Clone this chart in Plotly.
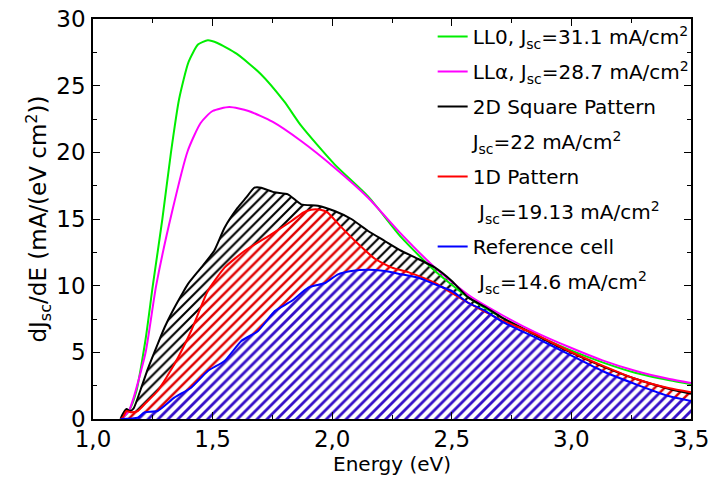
import plotly.graph_objects as go

# ---------------- data ----------------
ll0_x = [1.12, 1.15, 1.18, 1.22, 1.25, 1.29, 1.326, 1.36, 1.40, 1.44, 1.48, 1.52, 1.60, 1.70, 1.80,
         1.87, 2.01, 2.15, 2.29, 2.43, 2.57, 2.71, 2.85, 2.99, 3.13, 3.27, 3.41, 3.50]
ll0_y = [0.0, 0.6, 2.0, 6.0, 10.0, 15.0, 20.0, 24.0, 26.8, 28.1, 28.4, 28.2, 27.4, 25.9, 23.8,
         22.0, 19.1, 16.7, 13.6, 11.1, 9.1, 7.6, 6.3, 5.2, 4.25, 3.45, 2.9, 2.6]

lla_x = [1.12, 1.15, 1.17, 1.22, 1.264, 1.33, 1.396, 1.45, 1.50, 1.57, 1.65, 1.75, 1.87,
         2.01, 2.15, 2.29, 2.43, 2.57, 2.71, 2.85, 2.99, 3.13, 3.27, 3.41, 3.50]
lla_y = [0.0, 0.6, 1.6, 5.0, 10.0, 15.5, 20.1, 22.2, 23.1, 23.4, 23.1, 22.3, 20.85,
         18.85, 16.6, 13.85, 11.35, 9.3, 7.8, 6.5, 5.4, 4.4, 3.6, 3.0, 2.7]

sq2d_x = [1.115, 1.124, 1.14, 1.155, 1.17, 1.20, 1.23, 1.27, 1.30, 1.333, 1.37, 1.396, 1.452,
          1.506, 1.55, 1.605, 1.64, 1.675, 1.703, 1.758, 1.815, 1.87, 1.94, 2.01, 2.08, 2.15,
          2.22, 2.29, 2.36, 2.43, 2.50, 2.57, 2.64, 2.71, 2.85, 2.99, 3.13, 3.27, 3.41, 3.50]
sq2d_y = [0.0, 0.35, 0.75, 0.6, 0.8, 2.25, 3.8, 5.6, 6.9, 8.1, 9.3, 10.1, 11.35,
          12.6, 14.35, 15.85, 16.6, 17.35, 17.35, 17.0, 16.85, 16.1, 16.0, 15.6, 15.0, 14.1,
          13.35, 12.6, 12.0, 11.35, 10.35, 9.1, 8.4, 7.6, 6.3, 5.05, 3.95, 3.0, 2.25, 1.9]

p1d_x = [1.115, 1.124, 1.14, 1.16, 1.187, 1.22, 1.27, 1.34, 1.41, 1.48, 1.55, 1.633, 1.745,
         1.83, 1.88, 1.912, 1.95, 1.98, 2.04, 2.11, 2.18, 2.25, 2.32, 2.43, 2.57, 2.71, 2.85,
         2.99, 3.13, 3.27, 3.41, 3.50]
p1d_y = [0.0, 0.1, 0.6, 0.5, 0.6, 1.2, 2.1, 4.1, 6.6, 9.6, 11.35, 12.6, 13.85,
         14.85, 15.5, 15.7, 15.7, 15.5, 14.35, 13.1, 12.0, 11.35, 11.0, 10.2, 8.7, 7.4, 6.35,
         5.1, 4.0, 3.0, 2.3, 2.0]

ref_x = [1.115, 1.187, 1.215, 1.27, 1.34, 1.41, 1.48, 1.55, 1.62, 1.69, 1.76, 1.83, 1.90, 1.97,
         2.024, 2.08, 2.15, 2.22, 2.29, 2.36, 2.43, 2.50, 2.57, 2.64, 2.71, 2.85, 2.99, 3.13,
         3.27, 3.41, 3.50]
ref_y = [0.0, 0.1, 0.5, 0.6, 1.6, 2.35, 3.6, 4.35, 5.85, 6.6, 8.1, 8.85, 9.85, 10.2,
         10.85, 11.1, 11.2, 11.1, 10.85, 10.6, 10.1, 9.6, 8.7, 8.1, 7.3, 6.1, 4.85, 3.6,
         2.6, 1.7, 1.35]

names = ["LL0, J<sub>sc</sub>=31.1 mA/cm<sup>2</sup>",
         "LL\u03b1, J<sub>sc</sub>=28.7 mA/cm<sup>2</sup>",
         "2D Square Pattern",
         "1D Pattern",
         "Reference cell"]
jsc_labels = ["J<sub>sc</sub>=22 mA/cm<sup>2</sup>",
              "\u00a0J<sub>sc</sub>=19.13 mA/cm<sup>2</sup>",
              "\u00a0J<sub>sc</sub>=14.6 mA/cm<sup>2</sup>"]

x_tickvals = [1.0, 1.5, 2.0, 2.5, 3.0, 3.5]
x_ticktext = ["1,0", "1,5", "2,0", "2,5", "3,0", "3,5"]
y_tickvals = [0, 5, 10, 15, 20, 25, 30]
y_ticktext = ["0", "5", "10", "15", "20", "25", "30"]

FONT = "DejaVu Sans, sans-serif"
fig = go.Figure()

# hatched areas
fills = [(sq2d_x, sq2d_y, "black", 0.3), (p1d_x, p1d_y, "#e00000", 0.35),
         (ref_x, ref_y, "#3510c8", 0.4)]
for xs, ys, col, sol in fills:
    fig.add_trace(go.Scatter(
        x=xs, y=ys, mode="lines", line=dict(width=0, shape="spline", smoothing=0.5),
        fill="tozeroy", fillcolor="rgba(0,0,0,0)",
        fillpattern=dict(shape="/", fgcolor=col, bgcolor="white", size=7, solidity=sol,
                         fillmode="replace"),
        showlegend=False, hoverinfo="skip"))

def dummy(name, grp):
    return go.Scatter(x=[None], y=[None], mode="lines", name=name,
                      line=dict(color="rgba(0,0,0,0)", width=2), legendgroup=grp)

fig.add_trace(go.Scatter(x=ll0_x, y=ll0_y, mode="lines", name=names[0], legendgroup="a",
                         line=dict(color="#00ee00", width=2, shape="spline", smoothing=0.6)))
fig.add_trace(go.Scatter(x=lla_x, y=lla_y, mode="lines", name=names[1], legendgroup="b",
                         line=dict(color="#ff00ff", width=2, shape="spline", smoothing=0.6)))
fig.add_trace(go.Scatter(x=sq2d_x, y=sq2d_y, mode="lines", name=names[2], legendgroup="c",
                         line=dict(color="black", width=2, shape="spline", smoothing=0.5)))
fig.add_trace(dummy(jsc_labels[0], "d"))
fig.add_trace(go.Scatter(x=p1d_x, y=p1d_y, mode="lines", name=names[3], legendgroup="e",
                         line=dict(color="#ff0000", width=2, shape="spline", smoothing=0.5)))
fig.add_trace(dummy(jsc_labels[1], "f"))
fig.add_trace(go.Scatter(x=ref_x, y=ref_y, mode="lines", name=names[4], legendgroup="g",
                         line=dict(color="#0000ff", width=2, shape="spline", smoothing=0.5)))
fig.add_trace(dummy(jsc_labels[2], "h"))

axis_common = dict(showline=True, linecolor="black", linewidth=1.5, mirror="ticks",
                   ticks="inside", ticklen=7, tickwidth=1.3, tickcolor="black",
                   showgrid=False, zeroline=False, automargin=False,
                   tickfont=dict(family=FONT, size=23, color="black"))

fig.update_xaxes(range=[1.0, 3.5], tickvals=x_tickvals, ticktext=x_ticktext,
                 ticklabelstandoff=-1,
                 minor=dict(tickvals=[1.25, 1.75, 2.25, 2.75, 3.25], ticks="inside",
                            ticklen=4, tickwidth=1.3, tickcolor="black"),
                 title=dict(text="Energy (eV)", font=dict(family=FONT, size=20, color="black"),
                            standoff=2),
                 **axis_common)
fig.update_yaxes(range=[0, 30], tickvals=y_tickvals, ticktext=y_ticktext,
                 ticklabelstandoff=1,
                 minor=dict(tickvals=[2.5, 7.5, 12.5, 17.5, 22.5, 27.5], ticks="inside",
                            ticklen=4, tickwidth=1.3, tickcolor="black"),
                 title=dict(text="dJ<sub>sc</sub>/dE (mA/(eV cm<sup>2</sup>))",
                            font=dict(family=FONT, size=23, color="black"), standoff=3),
                 **axis_common)

fig.update_layout(
    width=712, height=486,
    margin=dict(l=93, r=21, t=19, b=67),
    plot_bgcolor="white", paper_bgcolor="white",
    legend=dict(x=0.568, y=1.005, xanchor="left", yanchor="top",
                bgcolor="rgba(0,0,0,0)", borderwidth=0, maxheight=470,
                font=dict(family=FONT, size=20, color="black"),
                traceorder="grouped", tracegroupgap=6),
)

fig.write_html("out.html", config={"displayModeBar": False},
               post_script="document.body.style.margin='0px';")
